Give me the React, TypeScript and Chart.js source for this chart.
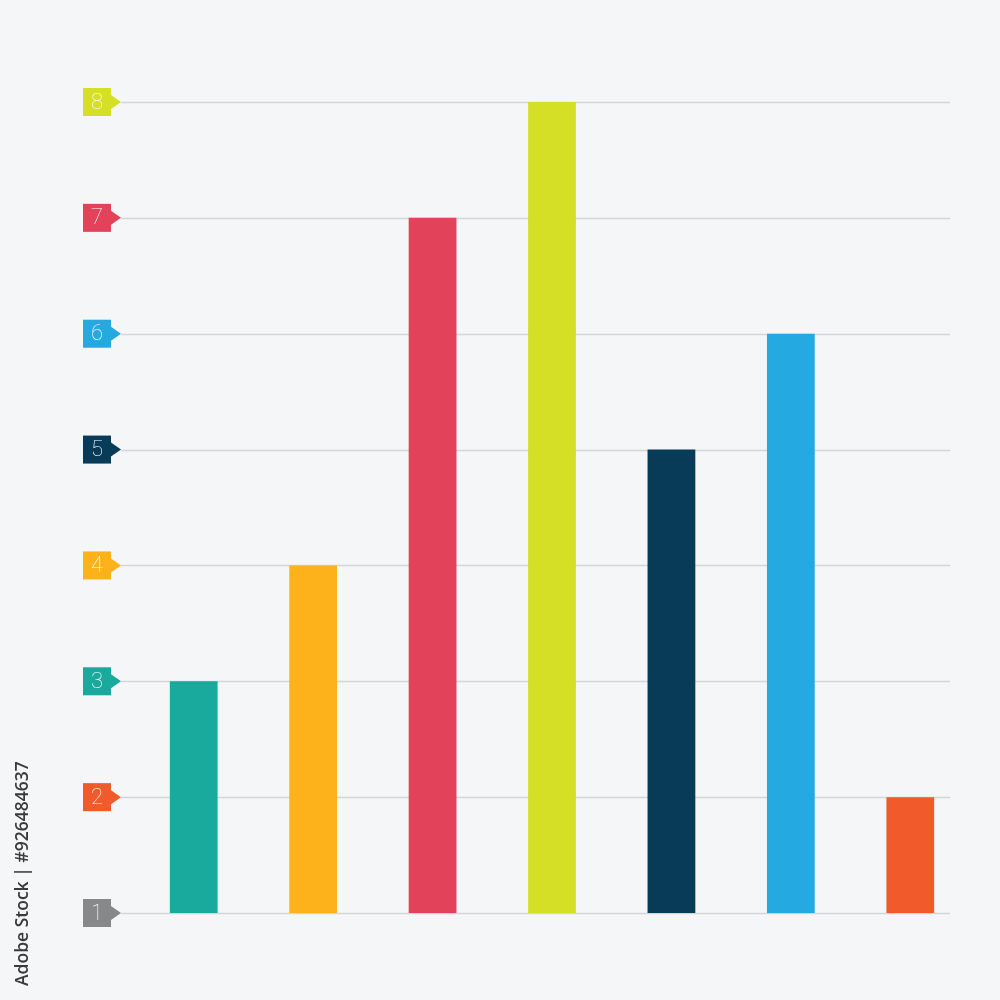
import React, { useEffect, useRef } from "react";
import { Chart, registerables } from "chart.js";

Chart.register(...registerables);

const categories = ["A", "B", "C", "D", "E", "F", "G"];
const values = [3, 4, 7, 8, 5, 6, 2];
const barColors = ["#19a99d", "#fdb11a", "#e2435a", "#d5df26", "#083b57", "#25a9e1", "#f15a2a"];
const tickValues = [1, 2, 3, 4, 5, 6, 7, 8];
const tickColors = ["#87888a", "#f15a2a", "#19a99d", "#fdb11a", "#083b57", "#25a9e1", "#e2435a", "#d5df26"];
const watermark = "Adobe Stock | #926484637";

const decorPlugin = {
  id: "decor",
  beforeDatasetsDraw(chart: any) {
    const { ctx, chartArea, scales } = chart;
    const y = scales.y;
    ctx.save();
    ctx.strokeStyle = "#d3d5d8";
    ctx.lineWidth = 1.5;
    tickValues.forEach((v) => {
      const py = Math.round(y.getPixelForValue(v)) + 0.5;
      ctx.beginPath();
      ctx.moveTo(chartArea.left - 13, py);
      ctx.lineTo(chartArea.right - 20, py);
      ctx.stroke();
    });
    ctx.restore();
  },
  afterDatasetsDraw(chart: any) {
    const { ctx, chartArea, scales } = chart;
    const y = scales.y;
    ctx.save();
    tickValues.forEach((v, i) => {
      const py = y.getPixelForValue(v);
      const bx = chartArea.left - 51;
      const bw = 28;
      const bh = 28;
      ctx.fillStyle = tickColors[i];
      ctx.fillRect(bx, py - bh / 2, bw, bh);
      ctx.beginPath();
      ctx.moveTo(bx + bw, py - 7);
      ctx.lineTo(bx + bw + 10, py);
      ctx.lineTo(bx + bw, py + 7);
      ctx.closePath();
      ctx.fill();
      ctx.fillStyle = "#ffffff";
      ctx.font = "100 22px Roboto";
      ctx.textAlign = "center";
      ctx.textBaseline = "middle";
      ctx.fillText(String(v), bx + bw / 2, py + 1);
    });
    ctx.translate(23, 986);
    ctx.rotate(-Math.PI / 2);
    ctx.fillStyle = "#3a3a3a";
    ctx.font = "600 17.5px 'Open Sans'";
    ctx.textAlign = "left";
    ctx.textBaseline = "middle";
    ctx.fillText(watermark, 0, 0);
    ctx.restore();
  },
};

export default function App() {
  const ref = useRef<HTMLCanvasElement>(null);
  useEffect(() => {
    if (!ref.current) return;
    const chart = new Chart(ref.current, {
      type: "bar",
      data: {
        labels: categories,
        datasets: [
          {
            data: values.map((v) => [1, v]),
            backgroundColor: barColors,
            borderWidth: 0,
            categoryPercentage: 1,
            barPercentage: 0.4,
          },
        ],
      },
      options: {
        animation: false,
        responsive: false,
        maintainAspectRatio: false,
        layout: { padding: { left: 134, right: 30, top: 102, bottom: 87 } },
        plugins: { legend: { display: false }, tooltip: { enabled: false } },
        scales: {
          x: { display: false },
          y: { display: false, min: 1, max: 8 },
        },
      },
      plugins: [decorPlugin],
    });
    return () => chart.destroy();
  }, []);
  return (
    <div style={{ position: "fixed", left: 0, top: 0, width: 1000, height: 1000, background: "#f4f6f8" }}>
      <canvas ref={ref} width={1000} height={1000} style={{ width: 1000, height: 1000, display: "block" }} />
    </div>
  );
}
